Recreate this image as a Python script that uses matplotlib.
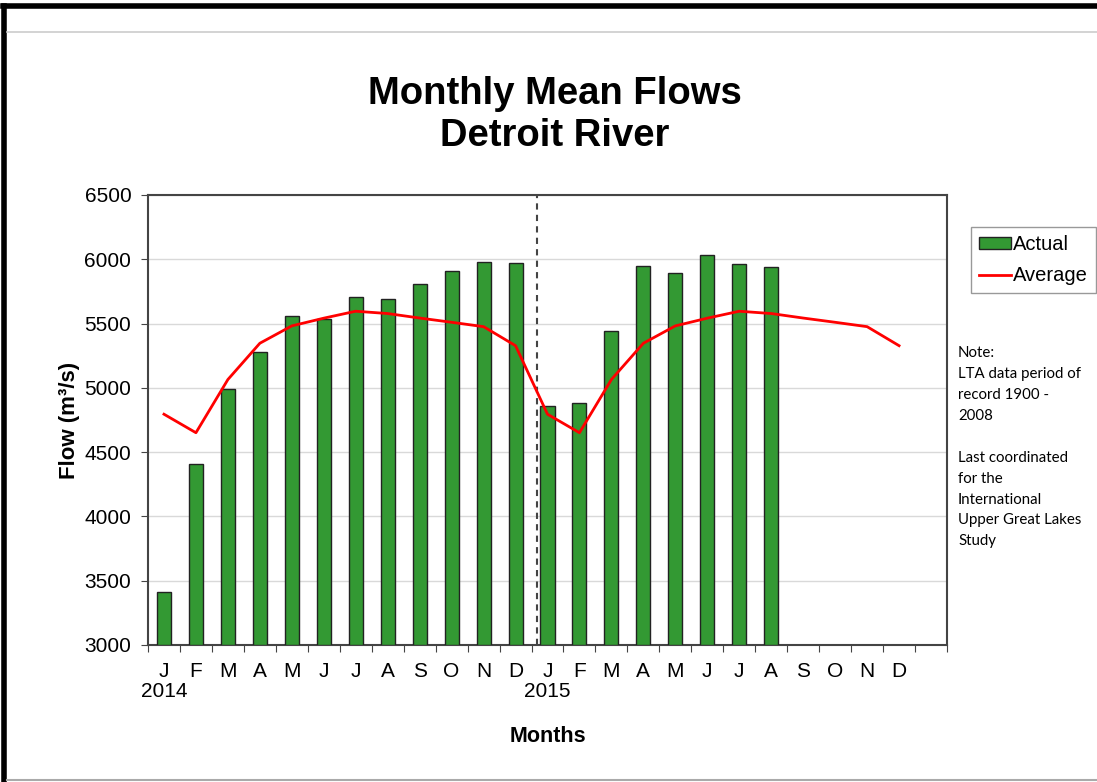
import matplotlib.pyplot as plt
import numpy as np
from matplotlib.lines import Line2D
from matplotlib.patches import Patch

# datos
meses = ["J", "F", "M", "A", "M", "J", "J", "A", "S", "O", "N", "D"] * 2
anios = {0: "2014", 12: "2015"}
actual = [3415, 4408, 4989, 5281, 5561, 5533, 5709, 5691, 5810, 5911, 5981, 5971,
          4859, 4880, 5442, 5950, 5891, 6031, 5961, 5940]
promedio = [4795, 4651, 5065, 5347, 5482, 5542, 5596, 5578, 5543, 5510, 5476, 5328,
            4795, 4651, 5065, 5347, 5482, 5542, 5596, 5578, 5543, 5510, 5476, 5328]
notas = "Note:\nLTA data period of\nrecord 1900 -\n2008\n\nLast coordinated\nfor the\nInternational\nUpper Great Lakes\nStudy"

plt.rcParams['font.family'] = ['Liberation Sans', 'DejaVu Sans']

fig = plt.figure(figsize=(10.97, 7.82), dpi=100)
ax = fig.add_axes([148/1097, 137/782, 799/1097, 450/782])

x_act = np.arange(len(actual))
x_prom = np.arange(len(promedio))

ax.bar(x_act, [a - 3000 for a in actual], bottom=3000, width=0.44, color="#339933",
       edgecolor="#222222", linewidth=1.0, zorder=3)
ax.plot(x_prom, promedio, color="#ff0000", linewidth=2.0, zorder=4)
ax.axvline(11.68, color="#444444", linestyle=(0, (3, 2.5)), linewidth=1.5, zorder=2)

ax.set_xlim(-0.5, 24.5)
ax.set_ylim(3000, 6500)
ax.set_yticks(np.arange(3000, 6501, 500))
ax.yaxis.grid(True, color="#d9d9d9", linewidth=1.0, zorder=0)
ax.set_axisbelow(True)
ax.tick_params(axis='y', labelsize=15, length=5, color="#444444", pad=7)

ax.set_xticks(np.arange(-0.5, 25, 1))
ax.set_xticklabels([])
ax.tick_params(axis='x', which='major', length=5, color="#444444")
etiquetas = [m + ("\n" + anios[i] if i in anios else "") for i, m in enumerate(meses)]
ax.set_xticks(np.arange(24), minor=True)
ax.set_xticklabels(etiquetas, minor=True, fontsize=15, linespacing=1.1)
ax.tick_params(axis='x', which='minor', length=0, pad=12)

for s in ax.spines.values():
    s.set_color("#444444")
    s.set_linewidth(1.5)

ax.set_xlabel("Months", fontsize=15.5, fontweight='bold', labelpad=18)
ax.set_ylabel("Flow (m³/s)", fontsize=16, fontweight='bold', labelpad=3)

fig.text(0.506, 1 - 115/782, "Monthly Mean Flows\nDetroit River", ha='center', va='center',
         fontsize=27.5, fontweight='bold', linespacing=1.22)

manejadores = [Patch(facecolor="#339933", edgecolor="#222222", label="Actual"),
               Line2D([0], [0], color="#ff0000", linewidth=2.0, label="Average")]
fig.legend(handles=manejadores, loc='upper left', bbox_to_anchor=(971/1097, 1 - 227/782),
           fontsize=14.5, frameon=True, fancybox=False, edgecolor="#808080",
           handlelength=1.6, handleheight=0.5, handletextpad=0.1, borderpad=0.4,
           labelspacing=0.6, borderaxespad=0)

fig.text(958/1097, 1 - 346/782, notas, ha='left', va='top', fontsize=10.8,
         family=['Lato', 'DejaVu Sans'], linespacing=1.63)

# marco de la figura
fig.add_artist(Line2D([0.003, 1], [0.992, 0.992], color='black', linewidth=4))
fig.add_artist(Line2D([0.004, 0.004], [0, 0.992], color='black', linewidth=4))
fig.add_artist(Line2D([0.006, 1], [1 - 32/782, 1 - 32/782], color='#cccccc', linewidth=1.2))
fig.add_artist(Line2D([0.006, 1], [0.003, 0.003], color='#aaaaaa', linewidth=1.5))

fig.savefig("out.png", dpi=100)
